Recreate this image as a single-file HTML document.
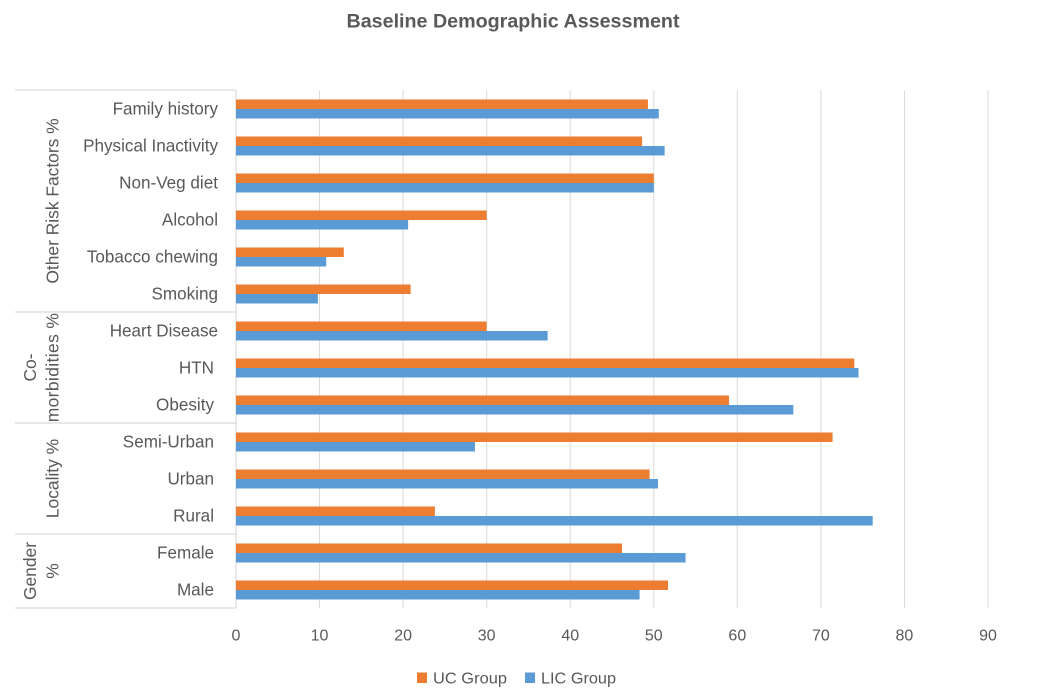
<!DOCTYPE html>
<html>
<head>
<meta charset="utf-8">
<style>
html,body{margin:0;padding:0;background:#fff;}
svg{display:block;font-family:"Liberation Sans",sans-serif;}
text{fill:#595959;}
</style>
</head>
<body>
<svg id="chart" width="1042" height="696" viewBox="0 0 1042 696" xmlns="http://www.w3.org/2000/svg">
  <text x="513" y="27.5" text-anchor="middle" font-size="19.5" font-weight="bold" textLength="333" lengthAdjust="spacingAndGlyphs">Baseline Demographic Assessment</text>
  <g>
    <g>
      <rect x="417" y="672.5" width="10" height="10.5" fill="#ED7D31"></rect>
      <text x="433" y="683.5" font-size="16" textLength="74" lengthAdjust="spacingAndGlyphs">UC Group</text>
    </g>
    <g>
      <rect x="525" y="672.5" width="10" height="10.5" fill="#5B9BD5"></rect>
      <text x="541" y="683.5" font-size="16" textLength="75" lengthAdjust="spacingAndGlyphs">LIC Group</text>
    </g>
  </g>
</svg>
<script>
var categories = ["Family history","Physical Inactivity","Non-Veg diet","Alcohol","Tobacco chewing","Smoking","Heart Disease","HTN","Obesity","Semi-Urban","Urban","Rural","Female","Male"];
var ucGroup = [49.3,48.6,50,30,12.9,20.9,30,74,59,71.4,49.5,23.8,46.2,51.7];
var licGroup = [50.6,51.3,50,20.6,10.8,9.8,37.3,74.5,66.7,28.6,50.5,76.2,53.8,48.3];
var xTicks = [0,10,20,30,40,50,60,70,80,90];
var groupNames = [["Other Risk Factors %"],["Co-","morbidities %"],["Locality %"],["Gender","%"]];
var groupCounts = [6,3,3,2];

var svg = document.getElementById('chart');
var NS = 'http://www.w3.org/2000/svg';
var left = 236, right = 988, top0 = 90, bottom = 608;
var bandH = (bottom - top0) / categories.length;
var barH = 9.5;
var xMax = xTicks[xTicks.length - 1];

function xScale(v){ return left + (v / xMax) * (right - left); }
function yBand(i){ return top0 + i * bandH; }
function make(tag, attrs, parent){
  var el = document.createElementNS(NS, tag);
  for (var k in attrs) el.setAttribute(k, attrs[k]);
  (parent || svg).appendChild(el);
  return el;
}

var gridGroup = make('g', {});


xTicks.forEach(function(t){
  if (t === 0) return;
  var line = make('line', {x1: xScale(t), x2: xScale(t), y1: top0, y2: bottom, stroke: '#d9d9d9', 'stroke-width': 1}, gridGroup);
  
  
});

var axisGroup = make('g', {});


var axisLine = make('line', {x1: left, x2: left, y1: top0, y2: bottom, stroke: '#d9d9d9', 'stroke-width': 1.2}, axisGroup);



var cumulative = 0;
var topRule = make('line', {x1: 15, x2: left, y1: top0, y2: top0, stroke: '#d9d9d9', 'stroke-width': 1.2}, axisGroup);


groupCounts.forEach(function(count, gi){
  var yStart = yBand(cumulative);
  cumulative += count;
  var yEnd = yBand(cumulative);
  var rule = make('line', {x1: 15, x2: left, y1: yEnd, y2: yEnd, stroke: '#d9d9d9', 'stroke-width': 1.2}, axisGroup);
  
  
  var lines = groupNames[gi];
  var cy = (yStart + yEnd) / 2;
  lines.forEach(function(txt, li){
    var cx = 58.5 - (lines.length - 1 - li) * 22.5;
    var label = make('text', {x: cx, y: cy, 'font-size': 17.4, 'text-anchor': 'middle', transform: 'rotate(-90 ' + cx + ' ' + cy + ')'}, axisGroup);
    if (txt.length > 10 && gi === 1) label.setAttribute('letter-spacing', '0.4');
    label.textContent = txt;
    
    
  });
});

categories.forEach(function(name, i){
  var labelRight = i < 7 ? 218 : 214;
  var label = make('text', {x: labelRight, y: yBand(i) + bandH / 2 + 0.5 + 5.7, 'font-size': 17.1, 'text-anchor': 'end'}, axisGroup);
  label.textContent = name;
  
  
});

var ucBars = make('g', {});


var licBars = make('g', {});


categories.forEach(function(name, i){
  var mid = yBand(i) + bandH / 2 + 0.5;
  var uc = make('rect', {x: left, y: mid - barH, width: xScale(ucGroup[i]) - left, height: barH, fill: '#ED7D31'}, ucBars);
  
  
  var lic = make('rect', {x: left, y: mid, width: xScale(licGroup[i]) - left, height: barH, fill: '#5B9BD5'}, licBars);
  
  
});

var valueAxis = make('g', {});


xTicks.forEach(function(t){
  var tick = make('text', {x: xScale(t), y: 640.5, 'font-size': 16, 'text-anchor': 'middle'}, valueAxis);
  tick.textContent = t;
  
  
});
</script>
</body>
</html>
